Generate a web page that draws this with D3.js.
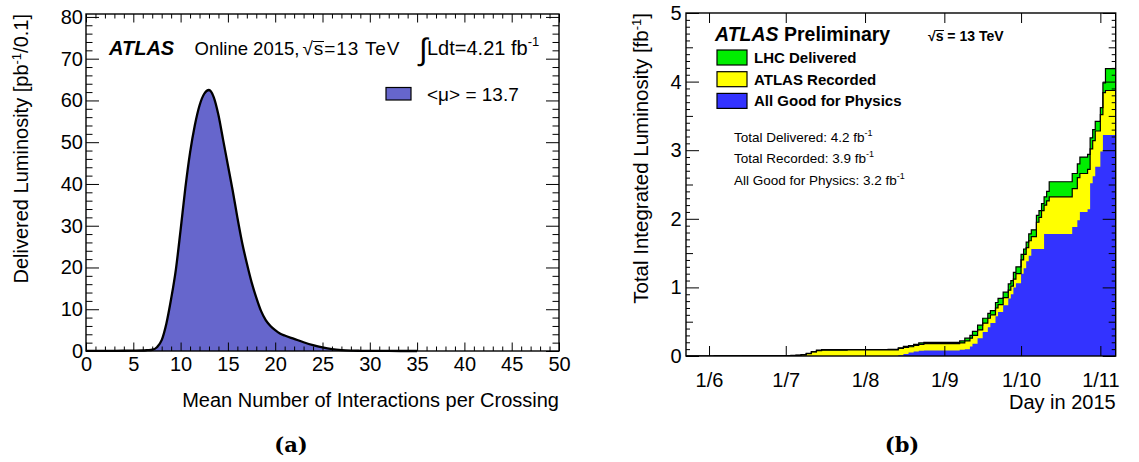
<!DOCTYPE html>
<html>
<head>
<meta charset="utf-8">
<script src="https://cdn.jsdelivr.net/npm/d3@7"></script>
<style>
  html, body { margin: 0; padding: 0; background: #fff; }
  svg text { font-family: "Liberation Sans", Arial, Helvetica, sans-serif; fill: #000; }
</style>
</head>
<body>
<svg id="fig" width="1139" height="462"></svg>
<script>
// ---------- Panel (a): luminosity-weighted pile-up distribution ----------
const muValues   = [0, 3, 5, 6, 6.5, 7, 7.5, 8, 8.5, 9, 9.5, 10, 10.5, 11, 11.5, 12, 12.5, 13,
                    13.5, 14, 14.5, 15, 15.5, 16, 16.5, 17, 17.5, 18, 18.5, 19, 19.5, 20, 20.5,
                    21, 22, 23, 24, 25, 26, 27, 28, 29, 30, 32, 35];
const lumiPerBin = [0.02, 0.05, 0.08, 0.12, 0.2, 0.3, 0.9, 2.6, 6.6, 12.5, 19.5, 29, 39, 47.5, 54, 58.8, 61.6, 62.5,
                    60.8, 56.5, 50.5, 44.5, 38.5, 32, 26, 21, 16.5, 12.8, 9.6, 7.4, 6.0, 5.0, 4.2,
                    3.7, 2.9, 2.1, 1.4, 0.85, 0.45, 0.22, 0.1, 0.05, 0.02, 0.01, 0];
const muMajorTicks   = [0, 5, 10, 15, 20, 25, 30, 35, 40, 45, 50];
const lumiMajorTicks = [0, 10, 20, 30, 40, 50, 60, 70, 80];

// ---------- Panel (b): cumulative integrated luminosity in 2015 ----------
const runDates = ["2015-05-23","2015-06-03","2015-06-14","2015-07-03","2015-07-05","2015-07-07","2015-07-09",
  "2015-07-11","2015-07-13","2015-07-15","2015-07-25","2015-08-10","2015-08-14","2015-08-16","2015-08-18",
  "2015-08-20","2015-08-22","2015-08-24","2015-09-07","2015-09-09","2015-09-11","2015-09-12","2015-09-14",
  "2015-09-16","2015-09-18","2015-09-19","2015-09-21","2015-09-22","2015-09-24","2015-09-26","2015-09-27",
  "2015-09-28","2015-09-29","2015-10-01","2015-10-02","2015-10-03","2015-10-04","2015-10-05","2015-10-07",
  "2015-10-08","2015-10-09","2015-10-10","2015-10-11","2015-10-12","2015-10-21","2015-10-23","2015-10-24",
  "2015-10-27","2015-10-28","2015-10-29","2015-10-30","2015-11-01","2015-11-02","2015-11-03","2015-11-07"];
const delivered = [0, 0.002, 0.006, 0.008, 0.012, 0.02, 0.04, 0.065, 0.085, 0.092, 0.095, 0.098, 0.12, 0.14, 0.15,
  0.17, 0.19, 0.2, 0.22, 0.26, 0.30, 0.36, 0.45, 0.55, 0.62, 0.66, 0.78, 0.84, 0.93, 1.05, 1.10,
  1.22, 1.30, 1.48, 1.56, 1.66, 1.78, 1.84, 2.05, 2.12, 2.22, 2.32, 2.40, 2.54, 2.66, 2.80, 2.90,
  2.94, 3.18, 3.30, 3.42, 3.62, 3.98, 4.19, 4.19];
const recorded = [0, 0.001, 0.004, 0.006, 0.009, 0.016, 0.034, 0.058, 0.078, 0.085, 0.088, 0.09, 0.11, 0.125, 0.135,
  0.155, 0.17, 0.18, 0.19, 0.22, 0.26, 0.30, 0.38, 0.48, 0.55, 0.60, 0.70, 0.75, 0.85, 0.96, 1.02,
  1.12, 1.20, 1.40, 1.48, 1.58, 1.68, 1.74, 1.95, 2.02, 2.12, 2.20, 2.26, 2.32, 2.44, 2.60, 2.66,
  2.72, 3.02, 3.14, 3.28, 3.52, 3.84, 3.87, 3.87];
const goodForPhysics = [0, 0, 0, 0, 0, 0, 0, 0, 0, 0, 0, 0, 0.01, 0.03, 0.05,
  0.065, 0.075, 0.08, 0.09, 0.10, 0.14, 0.18, 0.26, 0.35, 0.42, 0.48, 0.58, 0.64, 0.74, 0.84, 0.90,
  1.00, 1.06, 1.20, 1.28, 1.38, 1.46, 1.56, 1.56, 1.56, 1.56, 1.78, 1.78, 1.78, 1.88, 1.98, 2.10,
  2.14, 2.52, 2.62, 2.76, 2.98, 3.22, 3.22, 3.22];
const monthTicks = ["2015-06-01", "2015-07-01", "2015-08-01", "2015-09-01", "2015-10-01", "2015-11-01"];
const intLumiTicks = [0, 1, 2, 3, 4, 5];

const seriesNames  = ["LHC Delivered", "ATLAS Recorded", "All Good for Physics"];
const seriesColors = ["#00ee00", "#ffff00", "#3333ff"];
const totalsText   = ["Total Delivered: 4.2 fb", "Total Recorded: 3.9 fb", "All Good for Physics: 3.2 fb"];

const svg = d3.select("#fig");
const LABEL_SIZE = 20;

// Draws a set of inward-pointing ticks (ROOT style) with optional labels.
function drawAxis(g, axisGen, translate, values, size, withLabels, fmt, padding) {
  const ax = axisGen.tickValues(values).tickSizeInner(-size).tickSizeOuter(0)
                    .tickPadding(padding || 3).tickFormat(withLabels ? (fmt || (d => d)) : () => "");
  const sel = g.append("g").attr("transform", translate).call(ax);
  sel.select(".domain").remove();
  sel.selectAll("line").attr("stroke", "#000").attr("stroke-width", 1);
  sel.attr("font-size", null).attr("font-family", null);
  sel.selectAll("text").style("font-size", LABEL_SIZE + "px");
  return sel;
}
function minus(list, remove) { return list.filter(v => !remove.some(r => Math.abs(r - v) < 1e-9)); }

// ======================= Panel (a) =======================
const xa = d3.scaleLinear().domain([0, 50]).range([86, 559]);
const ya = d3.scaleLinear().domain([0, 80.7]).range([351, 14]);
const ga = svg.append("g");
const muPts = muValues.map((m, i) => [m, lumiPerBin[i]]);

ga.append("path")
  .attr("d", d3.area().x(d => xa(d[0])).y0(ya(0)).y1(d => ya(d[1])).curve(d3.curveMonotoneX)(muPts))
  .attr("fill", "#6666cc");
ga.append("path")
  .attr("d", d3.line().x(d => xa(d[0])).y(d => ya(d[1])).curve(d3.curveMonotoneX)(muPts))
  .attr("fill", "none").attr("stroke", "#000").attr("stroke-width", 2.3).attr("stroke-linejoin", "round");

const muMinor = minus(d3.range(0, 51, 1), muMajorTicks);
const lumiMinor = minus(d3.range(0, 81, 2), lumiMajorTicks);
drawAxis(ga, d3.axisBottom(xa), "translate(0,351)", muMajorTicks, 8.5, true, null, 5.5);
drawAxis(ga, d3.axisBottom(xa), "translate(0,351)", muMinor, 4.5, false);
drawAxis(ga, d3.axisTop(xa), "translate(0,14)", muMajorTicks, 8.5, false);
drawAxis(ga, d3.axisTop(xa), "translate(0,14)", muMinor, 4.5, false);
drawAxis(ga, d3.axisLeft(ya), "translate(86,0)", lumiMajorTicks, 13, true, null, 3);
drawAxis(ga, d3.axisLeft(ya), "translate(86,0)", lumiMinor, 6.5, false);
drawAxis(ga, d3.axisRight(ya), "translate(559,0)", lumiMajorTicks, 13, false);
drawAxis(ga, d3.axisRight(ya), "translate(559,0)", lumiMinor, 6.5, false);
ga.append("rect").attr("x", 86).attr("y", 14).attr("width", 473).attr("height", 337)
  .attr("fill", "none").attr("stroke", "#000").attr("stroke-width", 1.4);

// axis titles
const ytA = ga.append("text").attr("transform", "translate(28,14) rotate(-90)")
  .attr("text-anchor", "end").style("font-size", "20px");
ytA.append("tspan").text("Delivered Luminosity [pb");
ytA.append("tspan").attr("dy", -7).style("font-size", "13px").text("-1");
ytA.append("tspan").attr("dy", 7).text("/0.1]");
ga.append("text").attr("x", 559).attr("y", 407).attr("text-anchor", "end")
  .style("font-size", "20px").text("Mean Number of Interactions per Crossing");

// header text
ga.append("text").attr("x", 109).attr("y", 55).style("font-size", "20px")
  .style("font-weight", "bold").style("font-style", "italic").text("ATLAS");
ga.append("text").attr("x", 194.5).attr("y", 55).style("font-size", "18.5px").text("Online 2015,");
ga.append("text").attr("x", 302.5).attr("y", 55).style("font-size", "19px")
  .attr("textLength", 97).attr("lengthAdjust", "spacing").text("\u221As=13 TeV");
ga.append("path").attr("d", "M313,41.5H324").attr("stroke", "#000").attr("stroke-width", 1);
ga.append("text").attr("x", 419).attr("y", 60).style("font-size", "31px").text("\u222B");
const lumiInt = ga.append("text").attr("x", 427).attr("y", 55).style("font-size", "20px");
lumiInt.append("tspan").text("Ldt=4.21 fb");
lumiInt.append("tspan").attr("dy", -9).style("font-size", "13px").text("-1");

// legend
ga.append("rect").attr("x", 386).attr("y", 87.5).attr("width", 25).attr("height", 12.5)
  .attr("fill", "#6666cc").attr("stroke", "#000").attr("stroke-width", 1.2);
ga.append("text").attr("x", 427).attr("y", 100.5).style("font-size", "19px").text("<\u03BC> = 13.7");

ga.append("text").attr("x", 291).attr("y", 452).attr("text-anchor", "middle")
  .style("font-family", "'DejaVu Serif', 'Liberation Serif', serif").style("font-weight", "bold")
  .style("font-size", "21px").text("(a)");

// ======================= Panel (b) =======================
const parse = d3.utcParse("%Y-%m-%d");
const xb = d3.scaleUtc().domain([parse("2015-05-23"), parse("2015-11-07")]).range([686, 1115.7]);
const yb = d3.scaleLinear().domain([0, 5]).range([356, 13]);
const gb = svg.append("g");
const days = runDates.map(parse);
const defs = svg.append("defs");
defs.append("clipPath").attr("id", "clipB").append("rect")
  .attr("x", 686).attr("y", 13).attr("width", 429.7).attr("height", 343);
const plotB = gb.append("g").attr("clip-path", "url(#clipB)");

[delivered, recorded, goodForPhysics].forEach((vals, k) => {
  const pts = days.map((d, i) => [d, vals[i]]);
  plotB.append("path")
    .attr("d", d3.area().x(d => xb(d[0])).y0(yb(0)).y1(d => yb(d[1])).curve(d3.curveStepAfter)(pts))
    .attr("fill", seriesColors[k]);
});
[delivered, recorded].forEach(vals => {
  const pts = days.map((d, i) => [d, vals[i]]);
  plotB.append("path")
    .attr("d", d3.line().x(d => xb(d[0])).y(d => yb(d[1])).curve(d3.curveStepAfter)(pts))
    .attr("fill", "none").attr("stroke", "#000").attr("stroke-width", 1.2);
});

const months = monthTicks.map(parse);
const fmtDay = d3.utcFormat("%-d/%-m");
const lumiHalf = [0.5, 1.5, 2.5, 3.5, 4.5];
const lumiTenth = minus(d3.range(0, 50).map(i => +(i / 10).toFixed(1)), intLumiTicks.concat(lumiHalf));
drawAxis(gb, d3.axisBottom(xb), "translate(0,356)", months, 10, true, fmtDay, 17);
drawAxis(gb, d3.axisTop(xb), "translate(0,13)", months, 10, false);
drawAxis(gb, d3.axisLeft(yb), "translate(686,0)", intLumiTicks, 13, true, null, 4.5);
drawAxis(gb, d3.axisLeft(yb), "translate(686,0)", lumiHalf, 7, false);
drawAxis(gb, d3.axisLeft(yb), "translate(686,0)", lumiTenth, 4, false);
drawAxis(gb, d3.axisRight(yb), "translate(1115.7,0)", intLumiTicks, 13, false);
drawAxis(gb, d3.axisRight(yb), "translate(1115.7,0)", lumiHalf, 7, false);
drawAxis(gb, d3.axisRight(yb), "translate(1115.7,0)", lumiTenth, 4, false);
gb.append("rect").attr("x", 686).attr("y", 13).attr("width", 429.7).attr("height", 343)
  .attr("fill", "none").attr("stroke", "#000").attr("stroke-width", 1.4);

const ytB = gb.append("text").attr("transform", "translate(648,13) rotate(-90)")
  .attr("text-anchor", "end").style("font-size", "20.5px");
ytB.append("tspan").text("Total Integrated Luminosity [fb");
ytB.append("tspan").attr("dy", -7).style("font-size", "13px").text("-1");
ytB.append("tspan").attr("dy", 7).text("]");
gb.append("text").attr("x", 1115.7).attr("y", 409).attr("text-anchor", "end")
  .style("font-size", "20px").text("Day in 2015");

const head = gb.append("text").attr("x", 715).attr("y", 41).style("font-size", "19.5px").style("font-weight", "bold");
head.append("tspan").style("font-style", "italic").text("ATLAS");
head.append("tspan").text(" Preliminary");
gb.append("text").attr("x", 928).attr("y", 41).style("font-size", "14px").style("font-weight", "bold")
  .text("\u221As = 13 TeV");
gb.append("path").attr("d", "M935.5,30.5H944").attr("stroke", "#000").attr("stroke-width", 1);

seriesNames.forEach((name, k) => {
  const top = 50 + k * 21.7;
  gb.append("rect").attr("x", 717).attr("y", top).attr("width", 30).attr("height", 15)
    .attr("fill", seriesColors[k]).attr("stroke", "#000").attr("stroke-width", 1.2);
  gb.append("text").attr("x", 754).attr("y", top + 13).style("font-size", "15px")
    .style("font-weight", "bold").text(name);
});
totalsText.forEach((t, k) => {
  const tx = gb.append("text").attr("x", 734).attr("y", 142 + k * 21.3).style("font-size", "13.5px");
  tx.append("tspan").text(t);
  tx.append("tspan").attr("dy", -6).style("font-size", "9px").text("-1");
});

gb.append("text").attr("x", 902).attr("y", 452).attr("text-anchor", "middle")
  .style("font-family", "'DejaVu Serif', 'Liberation Serif', serif").style("font-weight", "bold")
  .style("font-size", "21px").text("(b)");
</script>
</body>
</html>
